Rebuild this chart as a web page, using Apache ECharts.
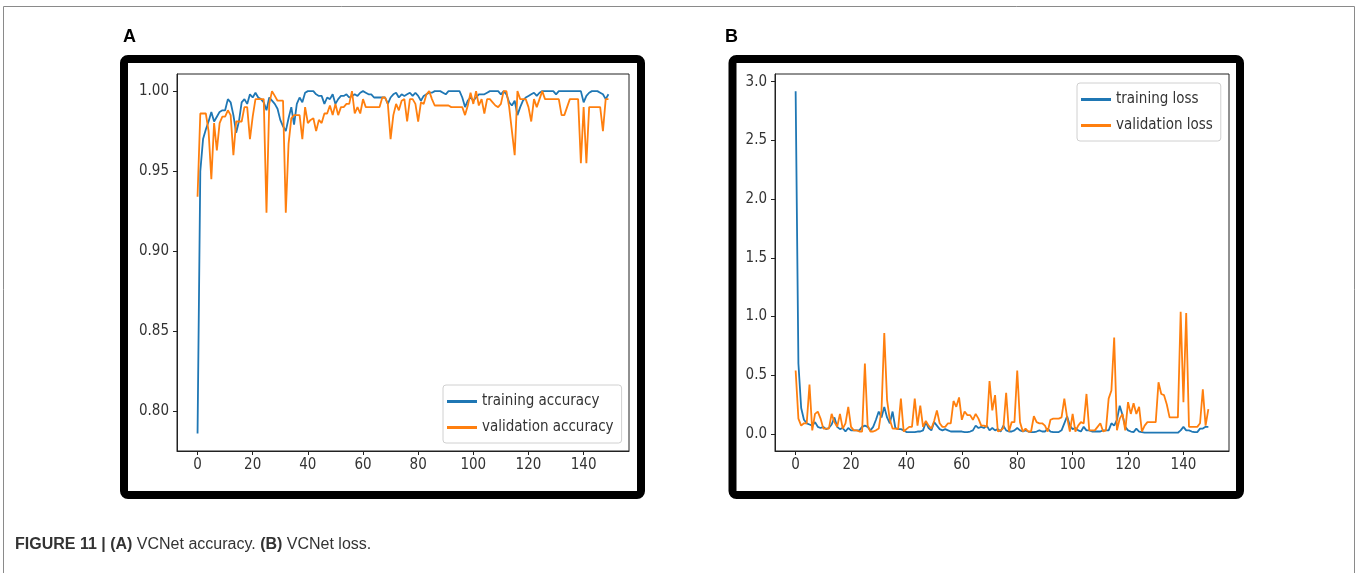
<!DOCTYPE html>
<html>
<head>
<meta charset="utf-8">
<title>VCNet accuracy and loss</title>
<script src="https://cdn.jsdelivr.net/npm/echarts@6/dist/echarts.min.js"></script>
<style>
html, body { margin: 0; padding: 0; background: #fff; }
#chart { width: 1358px; height: 573px; }
</style>
</head>
<body>
<div id="chart"></div>
<script>
// values (150 epochs)
var trainAcc = [
  0.786,0.950,0.970,0.976,0.981,0.987,0.981,0.984,0.987,0.988,
  0.988,0.995,0.993,0.985,0.974,0.981,0.993,0.995,0.992,0.998,
  0.996,0.999,0.996,0.995,0.993,0.988,0.996,0.994,0.992,0.989,
  0.982,0.978,0.975,0.983,0.990,0.979,0.992,0.996,0.993,0.999,
  1.000,1.000,1.000,0.998,0.997,0.997,0.992,0.996,0.995,0.998,
  0.992,0.995,0.997,0.997,0.998,0.996,0.997,0.998,0.997,0.999,
  1.000,0.999,0.998,0.998,0.996,0.996,0.996,0.996,0.996,0.992,
  0.996,0.998,0.999,0.996,0.998,0.997,0.998,0.999,0.997,0.999,
  0.997,0.994,0.997,0.998,0.999,0.999,1.000,1.000,1.000,0.999,
  0.998,1.000,1.000,1.000,1.000,1.000,0.996,0.990,0.994,0.996,
  0.994,0.996,0.998,0.998,0.998,0.999,1.000,1.000,1.000,1.000,
  0.998,1.000,0.998,0.993,0.991,0.994,0.985,0.990,0.994,0.996,
  0.997,0.998,0.999,0.997,0.999,1.000,1.000,1.000,1.000,1.000,
  0.998,1.000,1.000,1.000,1.000,1.000,1.000,1.000,1.000,1.000,
  0.993,0.997,0.999,1.000,1.000,1.000,0.999,0.998,0.995,0.998
];
var valAcc = [
  0.934,0.986,0.986,0.986,0.975,0.945,0.980,0.963,0.980,0.984,
  0.984,0.988,0.985,0.960,0.981,0.981,0.981,0.990,0.990,0.970,
  0.984,0.995,0.995,0.995,0.995,0.924,0.992,1.000,0.997,0.994,
  0.994,0.994,0.924,0.967,0.983,0.985,0.985,0.985,0.970,0.990,
  0.980,0.982,0.983,0.975,0.982,0.980,0.986,0.986,0.991,0.985,
  0.992,0.985,0.990,0.990,0.992,0.992,1.000,0.986,0.990,0.986,
  0.995,0.990,0.990,0.990,0.990,0.990,0.990,0.996,0.996,0.992,
  0.970,0.985,0.992,0.988,0.994,0.995,0.981,0.995,0.995,0.992,
  0.981,0.993,0.992,0.998,1.000,0.995,0.991,0.991,0.991,0.991,
  0.991,0.991,0.990,0.990,0.990,0.990,0.990,0.985,0.991,0.999,
  0.992,1.000,0.991,0.995,0.986,0.995,0.995,0.993,0.991,0.990,
  0.992,1.000,1.000,0.990,0.975,0.960,1.000,0.995,0.995,0.995,
  0.990,0.981,0.995,0.990,0.995,1.000,0.995,0.995,0.995,0.995,
  0.995,0.995,0.985,0.985,0.990,0.995,0.995,0.995,0.995,0.955,
  0.990,0.955,0.990,0.990,0.990,0.990,0.990,0.975,0.995,0.995
];
var trainLoss = [
  2.92,0.60,0.22,0.12,0.09,0.08,0.07,0.10,0.06,0.05,
  0.06,0.04,0.05,0.08,0.14,0.06,0.04,0.05,0.02,0.05,
  0.03,0.03,0.03,0.03,0.06,0.07,0.06,0.03,0.06,0.12,
  0.19,0.14,0.23,0.14,0.09,0.19,0.05,0.04,0.04,0.03,
  0.015,0.015,0.015,0.015,0.02,0.02,0.03,0.10,0.05,0.03,
  0.10,0.07,0.04,0.03,0.04,0.03,0.02,0.02,0.02,0.02,
  0.02,0.015,0.015,0.02,0.03,0.07,0.05,0.06,0.05,0.07,
  0.03,0.05,0.03,0.04,0.02,0.07,0.03,0.02,0.02,0.03,
  0.05,0.03,0.02,0.03,0.02,0.015,0.015,0.02,0.03,0.02,
  0.02,0.045,0.02,0.015,0.015,0.015,0.03,0.09,0.15,0.07,
  0.04,0.05,0.03,0.02,0.06,0.03,0.03,0.02,0.02,0.02,
  0.02,0.03,0.03,0.03,0.09,0.07,0.12,0.24,0.16,0.06,
  0.03,0.02,0.015,0.045,0.02,0.015,0.01,0.01,0.01,0.01,
  0.01,0.01,0.01,0.01,0.01,0.01,0.01,0.01,0.01,0.03,
  0.06,0.03,0.03,0.02,0.015,0.015,0.045,0.045,0.06,0.06
];
var valLoss = [
  0.54,0.13,0.07,0.09,0.09,0.42,0.03,0.17,0.19,0.13,
  0.045,0.045,0.045,0.17,0.10,0.06,0.17,0.045,0.09,0.23,
  0.06,0.03,0.03,0.02,0.02,0.60,0.07,0.02,0.02,0.03,
  0.045,0.20,0.86,0.29,0.12,0.045,0.045,0.04,0.30,0.02,
  0.04,0.06,0.06,0.30,0.07,0.24,0.06,0.11,0.07,0.045,
  0.11,0.20,0.09,0.06,0.06,0.09,0.09,0.28,0.23,0.31,
  0.12,0.19,0.16,0.16,0.12,0.17,0.13,0.07,0.07,0.06,
  0.45,0.20,0.33,0.02,0.03,0.05,0.35,0.02,0.10,0.10,
  0.54,0.10,0.02,0.045,0.02,0.02,0.15,0.10,0.09,0.09,
  0.07,0.02,0.12,0.13,0.13,0.13,0.14,0.30,0.14,0.02,
  0.17,0.02,0.07,0.10,0.09,0.34,0.03,0.03,0.03,0.06,
  0.09,0.02,0.03,0.30,0.37,0.82,0.03,0.13,0.17,0.03,
  0.27,0.17,0.26,0.17,0.23,0.02,0.07,0.10,0.10,0.10,
  0.10,0.44,0.34,0.33,0.25,0.14,0.14,0.14,0.14,1.04,
  0.27,1.03,0.06,0.06,0.06,0.06,0.09,0.38,0.07,0.21
];

// tick labels
var epochTicks = [0, 20, 40, 60, 80, 100, 120, 140];
var accTicks = [0.80, 0.85, 0.90, 0.95, 1.00];
var lossTicks = [0, 0.5, 1.0, 1.5, 2.0, 2.5, 3.0];

var epochs = trainAcc.map(function (v, i) { return i; });
function pairs(vals) {
  return vals.map(function (v, i) { return [epochs[i], v]; });
}

var BLUE = '#1f77b4', ORANGE = '#ff7f0e';
var PLOT_FONT = '"DejaVu Sans Condensed", "Liberation Sans Narrow", "DejaVu Sans", sans-serif';
var tickFont = { fontFamily: PLOT_FONT, fontSize: 15, color: '#333' };

function xAxisFor(idx) {
  return {
    type: 'value', gridIndex: idx, min: -7.45, max: 156.45,
    splitLine: { show: false },
    axisLine: { show: true, onZero: false, lineStyle: { color: '#222', width: 1 } },
    axisTick: { show: true, length: 4, customValues: epochTicks, lineStyle: { color: '#222' } },
    axisLabel: Object.assign({ customValues: epochTicks, margin: 7 }, tickFont)
  };
}
function yAxisFor(idx, min, max, ticks, digits) {
  return {
    type: 'value', gridIndex: idx, min: min, max: max,
    splitLine: { show: false },
    axisLine: { show: true, onZero: false, lineStyle: { color: '#222', width: 1 } },
    axisTick: { show: true, length: 4, customValues: ticks, lineStyle: { color: '#222' } },
    axisLabel: Object.assign({
      customValues: ticks, margin: 8,
      formatter: function (v) { return v.toFixed(digits); }
    }, tickFont)
  };
}
function lineSeries(name, vals, color, idx) {
  return {
    name: name, type: 'line', xAxisIndex: idx, yAxisIndex: idx,
    data: pairs(vals), showSymbol: false, symbol: 'none',
    lineStyle: { color: color, width: 1.8 }, itemStyle: { color: color }
  };
}
function legendAt(names, left, top) {
  return {
    data: names, orient: 'vertical', left: left, top: top,
    icon: 'rect', itemWidth: 30, itemHeight: 3, itemGap: 11,
    padding: [9, 8, 8, 4],
    borderColor: '#d0d0d0', borderWidth: 1, borderRadius: 3,
    backgroundColor: 'rgba(255,255,255,0.8)',
    textStyle: { fontFamily: PLOT_FONT, fontSize: 15, color: '#333' }
  };
}

var chart = echarts.init(document.getElementById('chart'));
var option = {
  animation: false,
  backgroundColor: '#fff',
  grid: [
    { left: 177, top: 74, width: 452, height: 377, show: true, borderColor: '#222', borderWidth: 1 },
    { left: 775, top: 74, width: 454, height: 377, show: true, borderColor: '#222', borderWidth: 1 }
  ],
  xAxis: [xAxisFor(0), xAxisFor(1)],
  yAxis: [
    yAxisFor(0, 0.775, 1.0107, accTicks, 2),
    yAxisFor(1, -0.146, 3.066, lossTicks, 1)
  ],
  legend: [
    legendAt(['training accuracy', 'validation accuracy'], 443, 385),
    legendAt(['training loss', 'validation loss'], 1077, 83)
  ],
  series: [
    lineSeries('training accuracy', trainAcc, BLUE, 0),
    lineSeries('validation accuracy', valAcc, ORANGE, 0),
    lineSeries('training loss', trainLoss, BLUE, 1),
    lineSeries('validation loss', valLoss, ORANGE, 1)
  ],
  graphic: [
    // thin page border
    { type: 'polyline', silent: true,
      shape: { points: [[3.5, 573], [3.5, 6.5], [1354.5, 6.5], [1354.5, 573]] },
      style: { stroke: '#8a8a8a', lineWidth: 1, fill: null } },
    // heavy black panel frames
    { type: 'rect', silent: true, shape: { x: 124, y: 59, width: 517, height: 436, r: 4 },
      style: { stroke: '#000', lineWidth: 8, fill: null } },
    { type: 'rect', silent: true, shape: { x: 732.5, y: 59, width: 507.5, height: 436, r: 4 },
      style: { stroke: '#000', lineWidth: 8, fill: null } },
    { type: 'text', left: 123, top: 28, silent: true,
      style: { text: 'A', fontFamily: 'Liberation Sans', fontWeight: 'bold', fontSize: 18, fill: '#000' } },
    { type: 'text', left: 725, top: 28, silent: true,
      style: { text: 'B', fontFamily: 'Liberation Sans', fontWeight: 'bold', fontSize: 18, fill: '#000' } },
    { type: 'text', left: 15, top: 537, silent: true,
      style: {
        text: '{b|FIGURE 11 | (A)} VCNet accuracy. {b|(B)} VCNet loss.',
        fontFamily: 'Liberation Sans', fontSize: 16, fill: '#333',
        rich: { b: { fontFamily: 'Liberation Sans', fontWeight: 'bold', fontSize: 16, fill: '#333' } }
      } }
  ]
};
chart.setOption(option);
</script>
</body>
</html>
